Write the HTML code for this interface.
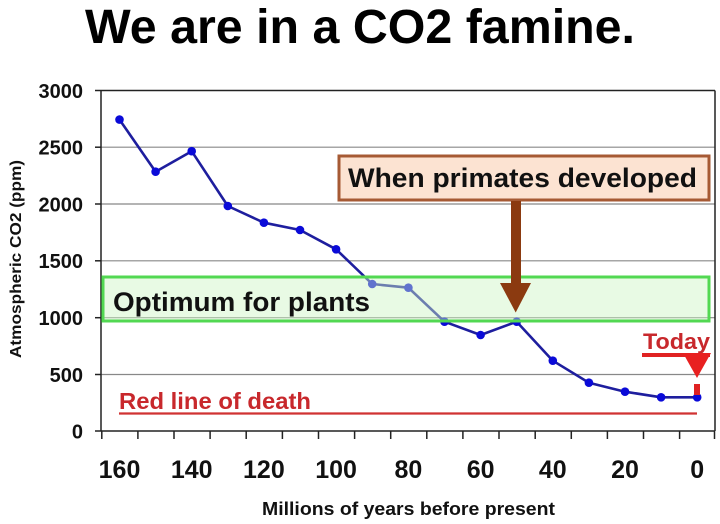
<!DOCTYPE html>
<html>
<head>
<meta charset="utf-8">
<style>
html,body{margin:0;padding:0;background:#fff;}
svg{display:block;}
text{font-family:"Liberation Sans",Arial,sans-serif;font-weight:bold;}
</style>
</head>
<body>
<svg width="720" height="524" viewBox="0 0 720 524" xmlns="http://www.w3.org/2000/svg">
<rect width="720" height="524" fill="#fff"/>
<!-- Title -->
<text x="360" y="43" font-size="48" text-anchor="middle" fill="#000" textLength="550" lengthAdjust="spacingAndGlyphs">We are in a CO2 famine.</text>

<!-- gridlines -->
<g stroke="#888" stroke-width="1.2">
<line x1="101" y1="147.2" x2="715" y2="147.2"/>
<line x1="101" y1="204.0" x2="715" y2="204.0"/>
<line x1="101" y1="260.8" x2="715" y2="260.8"/>
<line x1="101" y1="317.7" x2="715" y2="317.7"/>
<line x1="101" y1="374.5" x2="715" y2="374.5"/>
</g>
<!-- plot border -->
<g stroke="#222" stroke-width="1.5" fill="none">
<line x1="95" y1="90.5" x2="715" y2="90.5"/>
<line x1="715" y1="90.5" x2="715" y2="431"/>
<line x1="101" y1="90" x2="101" y2="431"/>
<line x1="95" y1="431" x2="715" y2="431"/>
<!-- y ticks -->
<line x1="95" y1="147.2" x2="101" y2="147.2"/>
<line x1="95" y1="204.0" x2="101" y2="204.0"/>
<line x1="95" y1="260.8" x2="101" y2="260.8"/>
<line x1="95" y1="317.7" x2="101" y2="317.7"/>
<line x1="95" y1="374.5" x2="101" y2="374.5"/>
<!-- x ticks -->
<path d="M101.8 431v8M137.9 431v8M174 431v8M210.1 431v8M246.2 431v8M282.4 431v8M318.5 431v8M354.6 431v8M390.7 431v8M426.8 431v8M462.9 431v8M499 431v8M535.2 431v8M571.3 431v8M607.4 431v8M643.5 431v8M679.6 431v8M714.5 431v8"/>
</g>

<!-- y labels -->
<g font-size="20" text-anchor="end" fill="#111">
<text x="83" y="98">3000</text>
<text x="83" y="154.5">2500</text>
<text x="83" y="211.3">2000</text>
<text x="83" y="268.1">1500</text>
<text x="83" y="325">1000</text>
<text x="83" y="381.8">500</text>
<text x="83" y="438.6">0</text>
</g>
<!-- y title -->
<text transform="translate(21,259) rotate(-90)" font-size="16" text-anchor="middle" fill="#111" textLength="198" lengthAdjust="spacingAndGlyphs">Atmospheric CO2 (ppm)</text>

<!-- x labels -->
<g font-size="25" text-anchor="middle" fill="#111">
<text x="119.5" y="478">160</text>
<text x="191.7" y="478">140</text>
<text x="263.9" y="478">120</text>
<text x="336.1" y="478">100</text>
<text x="408.4" y="478">80</text>
<text x="480.6" y="478">60</text>
<text x="552.8" y="478">40</text>
<text x="625" y="478">20</text>
<text x="697.2" y="478">0</text>
</g>
<text x="408.5" y="515" font-size="18" text-anchor="middle" fill="#111" textLength="293" lengthAdjust="spacingAndGlyphs">Millions of years before present</text>

<!-- red line of death -->
<line x1="119" y1="413.5" x2="697" y2="413.5" stroke="#d03232" stroke-width="2.2"/>
<text x="119" y="409" font-size="23" fill="#c8282c" textLength="192" lengthAdjust="spacingAndGlyphs">Red line of death</text>

<!-- data line -->
<polyline fill="none" stroke="#1e1e9e" stroke-width="2.6" stroke-linejoin="round"
points="119.5,119.6 155.6,171.7 191.7,151.2 227.8,206 263.9,222.7 300,230 336.1,249.3 372.2,284 408.4,287.7 444.5,321.7 480.6,335 516.7,321.7 552.8,360.7 588.9,382.7 625,391.7 661.1,397.3 697.2,397.3"/>
<g fill="#0a0ad8">
<circle cx="119.5" cy="119.6" r="4.3"/>
<circle cx="155.6" cy="171.7" r="4.3"/>
<circle cx="191.7" cy="151.2" r="4.3"/>
<circle cx="227.8" cy="206" r="4.3"/>
<circle cx="263.9" cy="222.7" r="4.3"/>
<circle cx="300" cy="230" r="4.3"/>
<circle cx="336.1" cy="249.3" r="4.3"/>
<circle cx="372.2" cy="284" r="4.3"/>
<circle cx="408.4" cy="287.7" r="4.3"/>
<circle cx="444.5" cy="321.7" r="4.3"/>
<circle cx="480.6" cy="335" r="4.3"/>
<circle cx="516.7" cy="321.7" r="4.3"/>
<circle cx="552.8" cy="360.7" r="4.3"/>
<circle cx="588.9" cy="382.7" r="4.3"/>
<circle cx="625" cy="391.7" r="4.3"/>
<circle cx="661.1" cy="397.3" r="4.3"/>
<circle cx="697.2" cy="397.3" r="4.3"/>
</g>

<!-- green optimum box -->
<rect x="103" y="277" width="606" height="44" fill="rgba(205,245,195,0.45)" stroke="#52d852" stroke-width="3"/>
<text x="113" y="311" font-size="27" fill="#111" textLength="257" lengthAdjust="spacingAndGlyphs">Optimum for plants</text>

<!-- primates box -->
<rect x="339" y="156" width="370" height="44" fill="#fce3d2" stroke="#a65a34" stroke-width="3"/>
<text x="348" y="187" font-size="27" fill="#111" textLength="349" lengthAdjust="spacingAndGlyphs">When primates developed</text>
<!-- brown arrow -->
<rect x="511" y="201" width="10" height="83" fill="#8b3a10"/>
<polygon points="500,283 531,283 515.7,312.5" fill="#8b3a10"/>

<!-- Today -->
<text x="643" y="349" font-size="22" fill="#c8282c" textLength="67" lengthAdjust="spacingAndGlyphs">Today</text>
<rect x="642" y="353" width="68" height="4" fill="#e02222"/>
<polygon points="683,353 711,353 697,378" fill="#e82020"/>
<rect x="694" y="384" width="6" height="11" fill="#e02222"/>
</svg>
</body>
</html>
